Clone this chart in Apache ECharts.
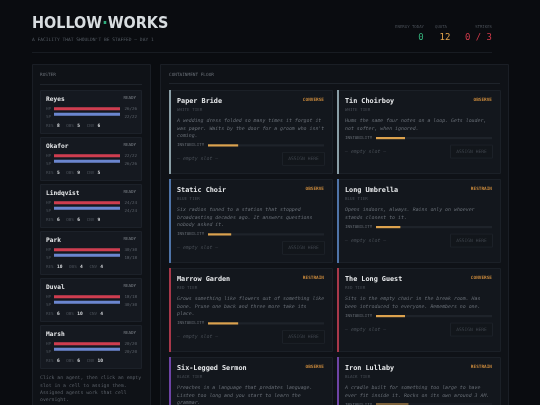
<!DOCTYPE html>
<html><head><meta charset="utf-8">
<script src="https://cdn.jsdelivr.net/npm/echarts@6/dist/echarts.min.js"></script>
<style>html,body{margin:0;padding:0;background:#0a0c10;overflow:hidden}#c{width:540px;height:405px}</style>
</head><body><div id="c"></div>
<script>
// ---- data ----
const agentNames = ['Reyes','Okafor','Lindqvist','Park','Duval','Marsh'];
const agentHP = [26,22,24,30,18,20];
const agentHPMax = [26,22,24,30,18,20];
const agentSP = [22,26,24,18,30,20];
const agentSPMax = [22,26,24,18,30,20];
const agentRES = [8,5,6,10,6,6];
const agentOBS = [5,9,6,4,10,6];
const agentCNV = [6,5,9,4,4,10];
const entityNames = ['Paper Bride','Tin Choirboy','Static Choir','Long Umbrella','Marrow Garden','The Long Guest','Six-Legged Sermon','Iron Lullaby'];
const entityTiers = ['WHITE TIER','WHITE TIER','BLUE TIER','BLUE TIER','RED TIER','RED TIER','BLACK TIER','BLACK TIER'];
const entityActions = ['CONVERSE','OBSERVE','OBSERVE','RESTRAIN','RESTRAIN','CONVERSE','OBSERVE','RESTRAIN'];
const entityInstability = [26,25,20,21,26,25,30,28];
const entityDesc = [
 ['A wedding dress folded so many times it forgot it','was paper. Waits by the door for a groom who isn\'t','coming.'],
 ['Hums the same four notes on a loop. Gets louder,','not softer, when ignored.'],
 ['Six radios tuned to a station that stopped','broadcasting decades ago. It answers questions','nobody asked it.'],
 ['Opens indoors, always. Rains only on whoever','stands closest to it.'],
 ['Grows something like flowers out of something like','bone. Prune one back and three more take its','place.'],
 ['Sits in the empty chair in the break room. Has','been introduced to everyone. Remembers no one.'],
 ['Preaches in a language that predates language.','Listen too long and you start to learn the','grammar.'],
 ['A cradle built for something too large to have','ever fit inside it. Rocks on its own around 3 AM.']
];
const energyToday = 0, quota = 12, strikes = 0, strikeMax = 3;

// ---- drawing ----
const MONO = '"DejaVu Sans Mono", "Liberation Mono", monospace';
const tierColor = {'WHITE TIER':'#8a9ea6','BLUE TIER':'#4f74a8','RED TIER':'#a8384a','BLACK TIER':'#6e44a6'};
const g = [];
function T(x,y,text,size,color,o){o=o||{};
  g.push({type:'text',z:o.z||10,style:{x:x,y:y,text:text,fill:color,font:(o.italic?'italic ':'')+(o.bold?'bold ':'')+size+'px '+(o.family||MONO),
    align:o.align||'left',verticalAlign:'middle'}});}
function R(x,y,w,h,fill,stroke,o){o=o||{};
  g.push({type:'rect',z:o.z||1,shape:{x:x,y:y,width:w,height:h,r:o.r||0},style:{fill:fill,stroke:stroke||null,lineWidth:1}});}
function L(x1,y1,x2,y2,c){g.push({type:'line',z:2,shape:{x1:x1,y1:y1,x2:x2,y2:y2},style:{stroke:c,lineWidth:1}});}

// header
g.push({type:'text',z:10,style:{x:32,y:24,text:'{a|HOLLOW}{b|·}{a|WORKS}',verticalAlign:'middle',rich:{
  a:{fill:'#d8dde0',font:'bold 16px "DejaVu Sans Condensed","Liberation Sans Narrow",sans-serif'},
  b:{fill:'#2fae7e',font:'bold 16px "DejaVu Sans Condensed",sans-serif'}}}});
T(32,40,'A FACILITY THAT SHOULDN\'T BE STAFFED — DAY 1',4.6,'#545b63');
T(424,27,'ENERGY TODAY',4,'#4a5058',{align:'right'});
T(441,27,'QUOTA',4,'#4a5058',{align:'center'});
T(492,27,'STRIKES',4,'#4a5058',{align:'right'});
T(421,37.5,String(energyToday),9,'#34b27a',{align:'center'});
T(445,37.5,String(quota),9,'#e0a24a',{align:'center'});
T(492,37.5,strikes+' / '+strikeMax,9,'#d03a4a',{align:'right'});
L(32,52.5,492,52.5,'#181c22');

// left panel
R(32.5,64.5,118,360,'#0f1217','#1a1e25');
T(40,75,'ROSTER',4.4,'#6a7078');
L(40,84.5,142,84.5,'#1e232a');
const grids=[],xAxes=[],yAxes=[],series=[];
function barGrid(left,top,width,height,cats,vals,color,track){
  const i=grids.length;
  grids.push({left:left,top:top,width:width,height:height,containLabel:false});
  xAxes.push({type:'value',gridIndex:i,min:0,max:1,show:false});
  yAxes.push({type:'category',gridIndex:i,data:cats,inverse:true,show:false});
  series.push({type:'bar',xAxisIndex:i,yAxisIndex:i,data:vals.map((v,j)=>({value:v,itemStyle:{color:Array.isArray(color)?color[j]:color}})),
    barWidth:'55%',silent:true,animation:false,showBackground:true,backgroundStyle:{color:track}});
}
agentNames.forEach((n,k)=>{
  const top=90+47*k;
  R(40.5,top+0.5,101,43,'#151920','#1c2129');
  T(46,top+9.5,n,6.2,'#e6e8ea',{bold:true});
  T(136,top+8,'READY',4.2,'#80868d',{align:'right'});
  T(46,top+19,'HP',4.2,'#4c525a');
  T(46,top+26.5,'SP',4.2,'#4c525a');
  T(137,top+19,agentHP[k]+'/'+agentHPMax[k],4.2,'#5c626a',{align:'right'});
  T(137,top+26.5,agentSP[k]+'/'+agentSPMax[k],4.2,'#5c626a',{align:'right'});
  barGrid(54,top+16,66,11,['HP','SP'],[agentHP[k]/agentHPMax[k],agentSP[k]/agentSPMax[k]],['#cf3d4f','#6b86cf'],'#222730');
  g.push({type:'text',z:10,style:{x:46,y:top+35.5,verticalAlign:'middle',
    text:'{l|RES} {v|'+agentRES[k]+'}  {l|OBS} {v|'+agentOBS[k]+'}  {l|CNV} {v|'+agentCNV[k]+'}',
    rich:{l:{fill:'#4c525a',font:'4.2px '+MONO},v:{fill:'#d8dbde',font:'bold 4.6px '+MONO}}}});
});
['Click an agent, then click an empty','slot in a cell to assign them.','Assigned agents work that cell','overnight.'].forEach((s,i)=>T(40,378+7.4*i,s,4.8,'#5a6068'));

// right panel
R(160.5,64.5,348,360,'#0f1217','#1a1e25');
T(169,75,'CONTAINMENT FLOOR',4.4,'#6a7078');
L(169,83.5,500,83.5,'#1e232a');
const rowTops=[90,179,268,357];
entityNames.forEach((n,k)=>{
  const col=k%2,row=Math.floor(k/2);
  const x=169+168*col, top=rowTops[row], w=163;
  R(x+0.5,top+0.5,w,83,'#13171d','#1b2027');
  R(x,top,2,84,tierColor[entityTiers[k]],null,{z:3});
  T(x+8,top+11.5,n,6.8,'#e8eaec',{bold:true});
  T(x+w-8,top+10,entityActions[k],4.4,'#c9893c',{align:'right',bold:true});
  T(x+8,top+20,entityTiers[k],4.2,'#4a5058');
  const d=entityDesc[k];
  d.forEach((s,i)=>T(x+8,top+31+7.3*i,s,4.9,'#6a7078',{italic:true}));
  const iy=top+31+7.3*d.length+2.5;
  T(x+8,iy,'INSTABILITY',4.1,'#6a7078');
  barGrid(x+39,iy-2,116,4,['I'],[entityInstability[k]/100],'#dca24e','#1e232a');
  const sy=iy+13.5;
  T(x+8,sy,'— empty slot —',4.9,'#4a5058',{italic:true});
  R(x+113.5,sy-6.5,42,13,'#12161b','#1c2128');
  T(x+134.5,sy,'ASSIGN HERE',4.6,'#3e444c',{align:'center'});
});

const chart=echarts.init(document.getElementById('c'),null,{renderer:'canvas'});
chart.setOption({backgroundColor:'#0a0c10',animation:false,grid:grids,xAxis:xAxes,yAxis:yAxes,series:series,graphic:{elements:g}});
</script></body></html>
